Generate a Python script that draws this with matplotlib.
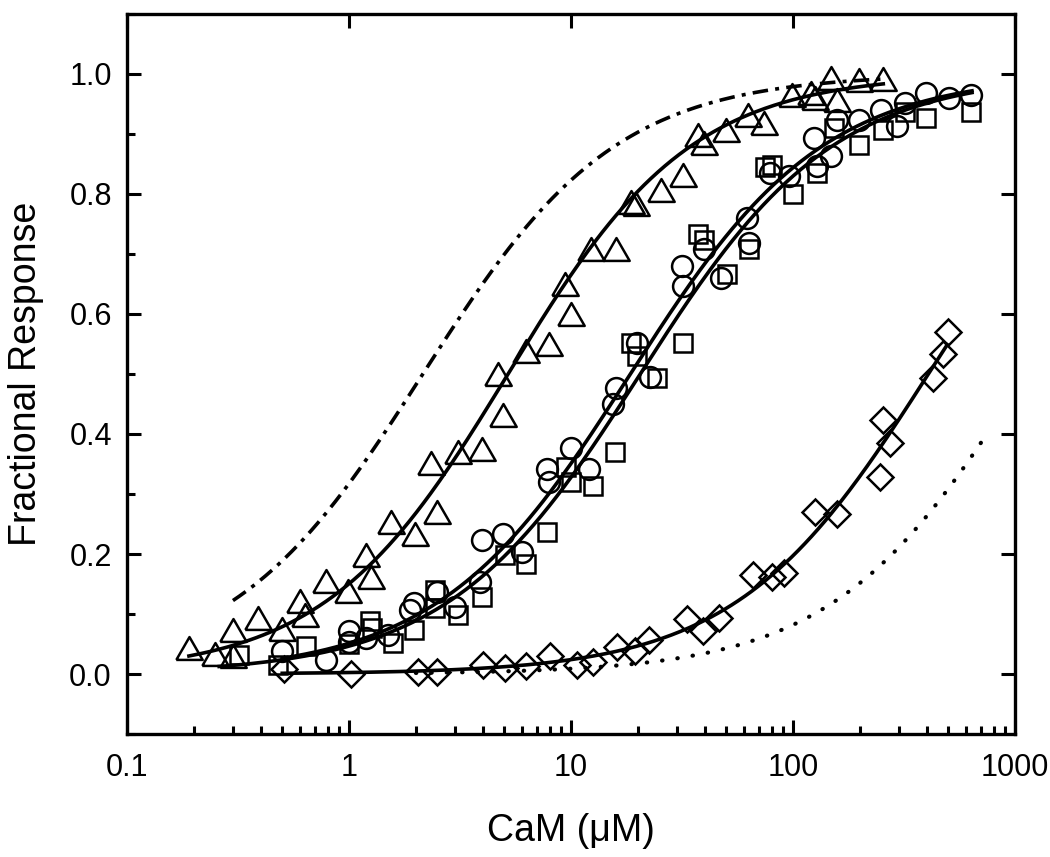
import numpy as np
import matplotlib.pyplot as plt
from matplotlib.ticker import LogLocator, NullFormatter, MultipleLocator

plt.rcParams['font.family'] = ['Liberation Sans', 'DejaVu Sans']

# data: CaM concentration (uM) vs fractional response
tri_x = [0.19, 0.25, 0.30, 0.30, 0.39, 0.50, 0.60, 0.63, 0.79, 0.99, 1.19, 1.26,
         1.55, 1.98, 2.35, 2.48, 3.11, 3.96, 4.71, 4.96, 6.26, 7.98, 9.4, 10.0,
         12.3, 15.9, 18.7, 19.7, 25.3, 31.8, 37.5, 39.7, 49.9, 63, 74, 98.6,
         120, 125.6, 149, 158.5, 199, 255]
tri_y = [0.043, 0.033, 0.074, 0.030, 0.093, 0.075, 0.121, 0.098, 0.155, 0.138, 0.198, 0.161,
         0.254, 0.234, 0.352, 0.270, 0.370, 0.375, 0.500, 0.431, 0.539, 0.550, 0.650, 0.600,
         0.708, 0.709, 0.786, 0.784, 0.807, 0.832, 0.899, 0.885, 0.907, 0.932, 0.918, 0.965,
         0.968, 0.960, 0.993, 0.957, 0.990, 0.991]

circ_x = [0.50, 0.79, 1.0, 1.0, 1.19, 1.5, 1.89, 1.96, 2.48, 3.0, 3.89, 3.99,
          4.96, 6.0, 7.77, 7.92, 10.0, 12.0, 15.5, 15.9, 19.8, 22.6, 31.5, 32.0,
          39.7, 47.5, 61.8, 63.2, 78.8, 96.2, 124.5, 128, 149, 158, 199, 250,
          295, 319, 398, 503, 631]
circ_y = [0.038, 0.024, 0.071, 0.054, 0.060, 0.065, 0.107, 0.118, 0.137, 0.112, 0.154, 0.223,
          0.234, 0.204, 0.342, 0.320, 0.377, 0.341, 0.450, 0.476, 0.552, 0.495, 0.680, 0.647,
          0.708, 0.660, 0.760, 0.718, 0.835, 0.830, 0.893, 0.846, 0.863, 0.924, 0.924, 0.940,
          0.914, 0.951, 0.968, 0.960, 0.965]

sq_x = [0.32, 0.48, 0.64, 1.0, 1.24, 1.27, 1.57, 1.97, 2.44, 2.44, 3.11, 3.96,
        5.06, 6.3, 7.83, 9.5, 10.0, 12.6, 15.8, 18.7, 19.8, 24.3, 31.8, 37.5,
        39.7, 50.3, 63.2, 75, 80.7, 100, 128, 153, 199, 255, 319, 398, 631]
sq_y = [0.031, 0.015, 0.046, 0.050, 0.088, 0.076, 0.051, 0.074, 0.140, 0.110, 0.098, 0.129,
        0.198, 0.184, 0.237, 0.345, 0.320, 0.314, 0.370, 0.552, 0.530, 0.494, 0.552, 0.733,
        0.724, 0.666, 0.708, 0.845, 0.849, 0.800, 0.835, 0.910, 0.882, 0.907, 0.937, 0.926, 0.937]

dia_x = [0.51, 1.02, 2.05, 2.5, 4.0, 5.06, 6.3, 8.0, 10.6, 12.5, 16.1, 19.5,
         22.4, 33.2, 39.2, 46.6, 66.2, 80, 91, 125.6, 158.5, 246.6, 253.6, 273.5,
         425.6, 472, 497.6]
dia_y = [0.009, 0.000, 0.004, 0.004, 0.015, 0.010, 0.013, 0.030, 0.015, 0.020, 0.045, 0.038,
         0.057, 0.091, 0.072, 0.094, 0.165, 0.161, 0.168, 0.270, 0.267, 0.328, 0.424, 0.385,
         0.494, 0.533, 0.570]

# fitted binding curves: (K, n, x_start, x_end)
fit_tri = (5.2, 1.05, 0.19, 255)
fit_circ = (18.5, 1.0, 0.5, 640)
fit_sq = (20.5, 1.0, 0.26, 640)
fit_dia = (407, 1.0, 0.5, 495)
sim_dashdot = (2.15, 1.0, 0.3, 255)
sim_dotted = (1120, 1.0, 2.0, 760)


def hill_curve(params):
    K, n, x0, x1 = params
    x = np.logspace(np.log10(x0), np.log10(x1), 300)
    return x, x**n / (K**n + x**n)


fig = plt.figure(figsize=(10.5, 8.57), dpi=100)
ax = fig.add_axes([0.121, 0.1435, 0.8457, 0.8402])

tri = [(-1, -0.866), (1, -0.866), (0, 0.866), (-1, -0.866)]
mk = dict(ls='none', mfc='none', mec='black', mew=1.8)
ax.plot(tri_x, tri_y, marker=tri, ms=19, **mk)
ax.plot(sq_x, sq_y, marker='s', ms=13.5, **mk)
ax.plot(circ_x, circ_y, marker='o', ms=15, **mk)
ax.plot(dia_x, dia_y, marker='D', ms=13.5, **mk)

for p in (fit_tri, fit_circ, fit_sq, fit_dia):
    x, y = hill_curve(p)
    ax.plot(x, y, color='black', lw=2.6)

x, y = hill_curve(sim_dashdot)
ax.plot(x, y, color='black', lw=2.6, ls=(0, (4.3, 2.0, 1.1, 2.0)))
x, y = hill_curve(sim_dotted)
ax.plot(x, y, color='black', lw=3.0, ls=(0, (0.1, 3.6)), dash_capstyle='round')

ax.set_xscale('log')
ax.set_xlim(0.1, 1000)
ax.set_ylim(-0.1, 1.1)
ax.set_xticks([0.1, 1, 10, 100, 1000])
ax.set_xticklabels(['0.1', '1', '10', '100', '1000'])
ax.xaxis.set_minor_locator(LogLocator(base=10, subs=np.arange(2, 10)))
ax.xaxis.set_minor_formatter(NullFormatter())
ax.set_yticks([0.0, 0.2, 0.4, 0.6, 0.8, 1.0])
ax.set_yticklabels(['0.0', '0.2', '0.4', '0.6', '0.8', '1.0'])
ax.yaxis.set_minor_locator(MultipleLocator(0.1))

ax.tick_params(which='both', direction='in', width=2.2, labelsize=22)
ax.tick_params(axis='x', which='both', pad=14)
ax.tick_params(axis='y', which='both', pad=11)
ax.tick_params(which='major', length=10, top=True, right=True)
ax.tick_params(which='minor', length=5.5, top=False, right=False)
for s in ax.spines.values():
    s.set_linewidth(2.4)

ax.set_xlabel('CaM (μM)', fontsize=27, labelpad=21)
ax.set_ylabel('Fractional Response', fontsize=27, labelpad=18)

fig.savefig('out.png', dpi=100)
